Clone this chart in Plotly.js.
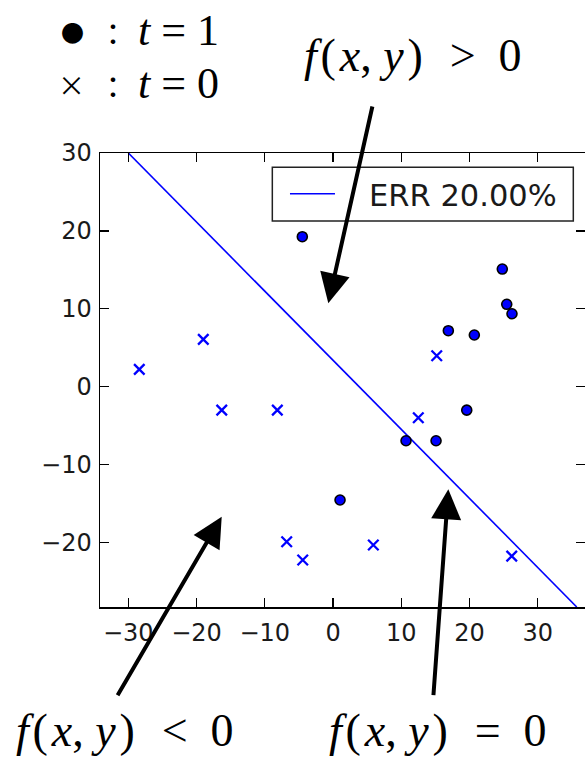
<!DOCTYPE html>
<html>
<head>
<meta charset="utf-8">
<script src="https://cdn.plot.ly/plotly-3.0.1.min.js"></script>
<style>html,body{margin:0;padding:0;background:#fff;}#chart{width:585px;height:758px;}</style>
</head>
<body>
<div id="chart"></div>
<script>
// t = 1 samples (filled circles)
const posX = [-4.50, 24.81, 25.46, 26.23, 16.90, 20.71, 19.60, 10.70, 15.10, 1.03];
const posY = [19.25, 15.10, 10.57, 9.36, 7.18, 6.63, -3.02, -6.95, -6.95, -14.56];
// t = 0 samples (crosses)
const negX = [-28.39, -19.01, -16.31, -8.16, -6.79, -4.44, 15.20, 12.50, 5.91, 26.19];
const negY = [2.22, 6.07, -3.02, -3.02, -19.92, -22.27, 3.97, -3.99, -20.34, -21.76];
// decision boundary f(x,y)=0
const boundaryX = [-30, 35.72];
const boundaryY = [30, -28.3];
const boundaryName = "ERR 20.00%";
// ticks
const xTicks = [-30, -20, -10, 0, 10, 20, 30];
const yTicks = [-20, -10, 0, 10, 20, 30];

const blue = "#0000ff";
const mathFont = {family: "Liberation Serif, Times New Roman, serif", size: 46, color: "#000"};
const smallMath = {family: "Liberation Serif, Times New Roman, serif", size: 44, color: "#000"};
const nb = "\u00A0", hs = "\u200A";
const fxy = "<i>f</i>" + hs + "(" + hs + "<i>x</i>," + nb + "<i>y</i>" + hs + ")";

const traces = [
  {x: boundaryX, y: boundaryY, type: "scatter", mode: "lines", name: nb + nb + nb + boundaryName,
   line: {color: blue, width: 1.6}, showlegend: true},
  {x: posX, y: posY, type: "scatter", mode: "markers", showlegend: false,
   marker: {symbol: "circle", size: 10, color: blue, line: {color: "#000", width: 1.6}}},
  {x: negX, y: negY, type: "scatter", mode: "markers", showlegend: false,
   marker: {symbol: "x-thin-open", size: 10.5, color: blue, line: {color: blue, width: 2.3}}}
];

const axisCommon = {
  showline: true, linecolor: "#000", linewidth: 1.5, mirror: "ticks",
  ticks: "inside", ticklen: 9, tickwidth: 1.3, tickcolor: "#000",
  showgrid: false, zeroline: false,
  tickfont: {family: "DejaVu Sans", size: 24, color: "#1a1a1a"}
};

const arrow = {text: "", showarrow: true, arrowhead: 2, arrowsize: 1.5, arrowwidth: 4,
  arrowcolor: "#000", xref: "x", yref: "y", axref: "pixel", ayref: "pixel", standoff: 0, startstandoff: 0};

function lbl(x, y, text, font, anchor) {
  return {xref: "paper", yref: "paper", x: x, y: y, xanchor: anchor || "center", yanchor: "middle",
    showarrow: false, text: text, font: font, borderpad: 0};
}
const cjk = {family: "Noto Sans CJK JP", size: 30, color: "#000"};

const layout = {
  width: 585, height: 758,
  margin: {l: 100, r: 0, t: 153, b: 151, pad: 0},
  paper_bgcolor: "#fff", plot_bgcolor: "#fff",
  xaxis: Object.assign({}, axisCommon, {range: [-34.15, 36.93], tickvals: xTicks, ticklabelstandoff: 4}),
  yaxis: Object.assign({}, axisCommon, {range: [-28.3, 30.0], tickvals: yTicks, ticklabelstandoff: 2}),
  legend: {x: 0.3814, y: 0.9097, xanchor: "left", yanchor: "middle",
    bgcolor: "rgba(0,0,0,0)", borderwidth: 0,
    font: {family: "DejaVu Sans", size: 30.5, color: "#1a1a1a"}, itemwidth: 45},
  shapes: [
    {type: "rect", xref: "paper", yref: "paper", x0: 0.3553, x1: 0.9759, y0: 0.8502, y1: 0.9685,
     line: {color: "#222", width: 1.5}, fillcolor: "#fff", layer: "above"}
  ],
  annotations: [
    Object.assign({}, arrow, {x: -0.69, y: 10.70, ax: 44.4, ay: -198.3}),
    Object.assign({}, arrow, {x: -16.31, y: -16.71, ax: -105, ay: 180}),
    Object.assign({}, arrow, {x: 16.90, y: -13.19, ax: -15, ay: 207.4}),
    lbl(0.419, 1.214, fxy + nb + nb + hs + "&gt;" + nb + nb + "0", mathFont, "left"),
    lbl(-0.175, -0.273, fxy + nb + nb + hs + "&lt;" + nb + nb + "0", mathFont, "left"),
    lbl(0.470, -0.273, fxy + nb + nb + hs + "=" + nb + nb + "0", mathFont, "left"),
    lbl(-0.056, 1.267, "●", {family: "Noto Sans CJK JP", size: 23, color: "#000"}),
    lbl(0.026, 1.267, "：", cjk),
    lbl(0.076, 1.270, "<i>t</i>" + nb + "=" + nb + "1", smallMath, "left"),
    lbl(-0.058, 1.150, "×", {family: "Noto Sans CJK JP", size: 27, color: "#000"}),
    lbl(0.026, 1.150, "：", cjk),
    lbl(0.076, 1.153, "<i>t</i>" + nb + "=" + nb + "0", smallMath, "left")
  ]
};

Plotly.newPlot("chart", traces, layout, {displayModeBar: false, staticPlot: true});
</script>
</body>
</html>
